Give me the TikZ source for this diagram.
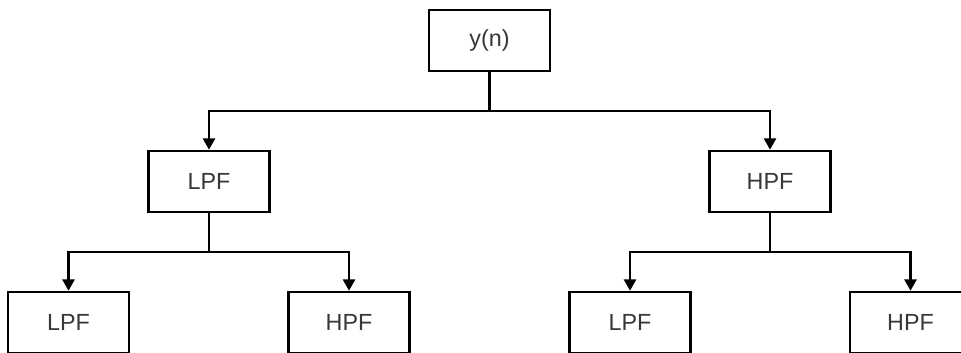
\documentclass[tikz,border=0pt]{standalone}
\usepackage{fontspec}
\setmainfont{Liberation Sans}
\usetikzlibrary{arrows.meta}
\begin{document}
\begin{tikzpicture}[x=0.75pt,y=-0.75pt,
  filt/.style={draw=black, line width=1.9pt, fill=white,
    minimum width=90.75pt, minimum height=45.75pt, inner sep=0pt,
    font=\fontsize{17.5}{21}\selectfont, text=black!78},
  wire/.style={draw=black, line width=1.9pt},
  feed/.style={wire, -{Triangle[length=8.5pt,width=9pt]}}]
  \useasboundingbox (0,0) rectangle (961,353);
  \clip (0,0) rectangle (961,353);

  % root and first stage
  \node[filt] (yn)  at (489.5,40.5) {y(n)};
  \node[filt] (l1)  at (209,181.5)  {LPF};
  \node[filt] (h1)  at (770,181.5)  {HPF};

  % second stage
  \node[filt] (ll)  at (68.5,322.5) {LPF};
  \node[filt] (lh)  at (349,322.5)  {HPF};
  \node[filt] (hl)  at (630,322.5)  {LPF};
  \node[filt] (hh)  at (910.5,322.5) {HPF};

  % split points
  \coordinate (s0) at (489.5,111);
  \coordinate (s1) at (209,252);
  \coordinate (s2) at (770,252);

  \draw[wire] (yn.south) -- (s0);
  \draw[feed] (s0) -| (l1.north);
  \draw[feed] (s0) -| (h1.north);

  \draw[wire] (l1.south) -- (s1);
  \draw[feed] (s1) -| (ll.north);
  \draw[feed] (s1) -| (lh.north);

  \draw[wire] (h1.south) -- (s2);
  \draw[feed] (s2) -| (hl.north);
  \draw[feed] (s2) -| (hh.north);
\end{tikzpicture}
\end{document}
